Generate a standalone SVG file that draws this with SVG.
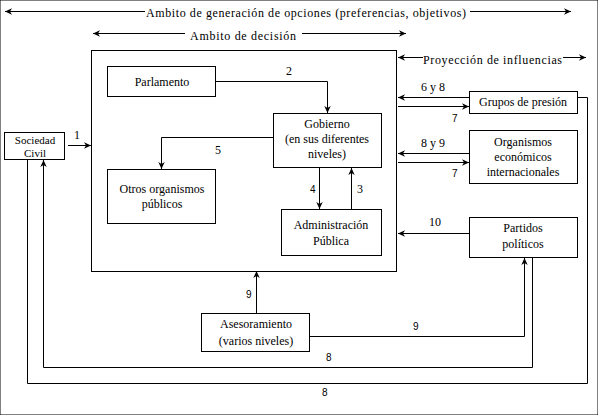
<svg xmlns="http://www.w3.org/2000/svg" width="598" height="415" viewBox="0 0 598 415">
<defs>
<marker id="ah" markerWidth="8" markerHeight="8" refX="7" refY="4" orient="auto" markerUnits="userSpaceOnUse">
<path d="M0,0.8 L7,4 L0,7.2 L2,4 Z" fill="#000"/>
</marker>
<marker id="as" markerWidth="8" markerHeight="8" refX="1" refY="4" orient="auto" markerUnits="userSpaceOnUse">
<path d="M8,0.8 L1,4 L8,7.2 L6,4 Z" fill="#000"/>
</marker>
</defs>
<style>
text{font-family:'Liberation Serif','DejaVu Serif',serif;font-size:12px;fill:#000}
.c{text-anchor:middle}
.n{font-family:'Liberation Sans','DejaVu Sans',sans-serif;font-size:10px}
.s{font-size:11px}
rect{fill:#fff;stroke:#000;stroke-width:1}
.l{fill:none;stroke:#000;stroke-width:1}
.a{fill:none;stroke:#000;stroke-width:1;marker-end:url(#ah)}
</style>
<rect width="598" height="415" fill="#fff" stroke="none"/>

<g id="scopes" font-family="Liberation Serif, serif">
<line class="l" x1="5" y1="11.5" x2="145" y2="11.5" marker-start="url(#as)"/>
<text x="146" y="17" textLength="320">Ambito de generación de opciones (preferencias, objetivos)</text>
<line class="a" x1="470" y1="11.5" x2="571" y2="11.5"/>
<line class="l" x1="93" y1="33.5" x2="185" y2="33.5" marker-start="url(#as)"/>
<text x="190" y="40" textLength="106">Ambito de decisión</text>
<line class="a" x1="302" y1="33.5" x2="406" y2="33.5"/>
<line class="l" x1="398" y1="57.5" x2="423" y2="57.5" marker-start="url(#as)"/>
<text x="423" y="64" textLength="139">Proyección de influencias</text>
<line class="a" x1="563" y1="57.5" x2="586" y2="57.5"/>
</g>

<g id="ambito-decision"><rect x="91.5" y="50.5" width="305" height="221"/></g>
<g id="parlamento"><rect x="107.5" y="66.5" width="108" height="30"/><text class="c" x="162" y="86">Parlamento</text></g>
<g id="gobierno"><rect x="273.5" y="113.5" width="108" height="54"/>
<text class="c" x="327" y="128">Gobierno</text><text class="c" x="327" y="143">(en sus diferentes</text><text class="c" x="327" y="158">niveles)</text></g>
<g id="sociedad"><rect x="4.5" y="132.5" width="60" height="27"/><text class="c s" x="35" y="144">Sociedad</text><text class="c s" x="35" y="157">Civil</text></g>
<g id="otros"><rect x="107.5" y="169.5" width="108" height="54"/><text class="c" x="162" y="193">Otros organismos</text><text class="c" x="162" y="208">públicos</text></g>
<g id="administracion"><rect x="281.5" y="209.5" width="100" height="46"/><text class="c" x="331" y="229">Administración</text><text class="c" x="331" y="245">Pública</text></g>
<g id="grupos"><rect x="469.5" y="91.5" width="108" height="22"/><text class="c" x="523" y="106">Grupos de presión</text></g>
<g id="organismos"><rect x="469.5" y="130.5" width="108" height="53"/><text class="c" x="523" y="146">Organismos</text><text class="c" x="523" y="161">económicos</text><text class="c" x="523" y="176">internacionales</text></g>
<g id="partidos"><rect x="469.5" y="217.5" width="108" height="40"/><text class="c" x="523" y="232">Partidos</text><text class="c" x="523" y="248">políticos</text></g>
<g id="asesoramiento"><rect x="201.5" y="313.5" width="108" height="38"/><text class="c" x="256" y="328">Asesoramiento</text><text class="c" x="256" y="345">(varios niveles)</text></g>

<g id="connectors">
<line class="a" x1="68" y1="145.5" x2="91" y2="145.5"/>
<text x="74" y="139">1</text>
<polyline class="a" points="216,81.5 327.5,81.5 327.5,113"/>
<text x="286" y="75">2</text>
<polyline class="a" points="273,137.5 161.5,137.5 161.5,169"/>
<text x="215" y="154">5</text>
<line class="a" x1="319.5" y1="168" x2="319.5" y2="209"/>
<text class="n" x="310" y="193">4</text>
<line class="a" x1="351.5" y1="209" x2="351.5" y2="168"/>
<text x="357" y="193">3</text>
<line class="a" x1="469" y1="97.5" x2="398" y2="97.5"/>
<text x="421" y="91">6 y 8</text>
<line class="a" x1="398" y1="106.5" x2="469" y2="106.5"/>
<text class="n" x="452" y="122">7</text>
<line class="a" x1="469" y1="153.5" x2="398" y2="153.5"/>
<text x="421" y="147">8 y 9</text>
<line class="a" x1="398" y1="162.5" x2="469" y2="162.5"/>
<text class="n" x="452" y="177">7</text>
<line class="a" x1="469" y1="233.5" x2="398" y2="233.5"/>
<text x="429" y="226">10</text>
<line class="a" x1="256.5" y1="313" x2="256.5" y2="271"/>
<text class="n" x="246" y="298">9</text>
<polyline class="a" points="310,336.5 524.5,336.5 524.5,258"/>
<text class="n" x="413" y="330">9</text>
<polyline class="a" points="532.5,258 532.5,367.5 43.5,367.5 43.5,160"/>
<text class="n" x="326" y="361">8</text>
<polyline class="l" points="578,97.5 587.5,97.5 587.5,383.5 27.5,383.5 27.5,160"/>
<text class="n" x="322" y="396">8</text>
</g>
</svg>
